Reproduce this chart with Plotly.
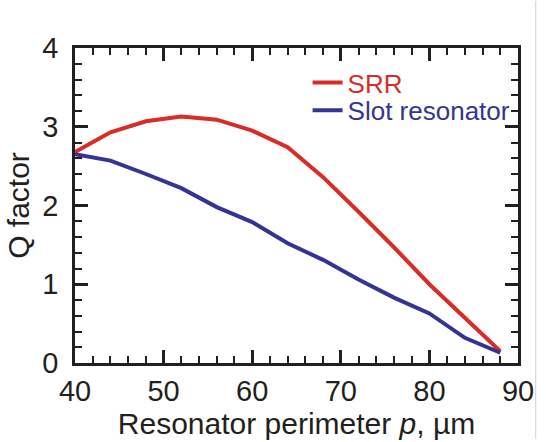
import plotly.graph_objects as go

# Resonator perimeter p (µm)
perimeter = [40, 44, 48, 52, 56, 60, 64, 68, 72, 76, 80, 84, 88]
# Q factor for each resonator type
q_srr = [2.68, 2.93, 3.07, 3.13, 3.09, 2.95, 2.74, 2.36, 1.92, 1.47, 1.00, 0.57, 0.15]
q_slot = [2.65, 2.57, 2.40, 2.22, 1.98, 1.79, 1.52, 1.31, 1.06, 0.83, 0.63, 0.32, 0.13]

x_ticks = [40, 50, 60, 70, 80, 90]
y_ticks = [0, 1, 2, 3, 4]

RED = "rgb(218,44,38)"
BLUE = "rgb(52,52,150)"
INK = "#231f20"
FONT = "Liberation Sans, Arial, sans-serif"

fig = go.Figure()
fig.add_trace(go.Scatter(x=perimeter, y=q_srr, mode="lines", name="SRR",
                         line=dict(color=RED, width=4), legend="legend"))
fig.add_trace(go.Scatter(x=perimeter, y=q_slot, mode="lines", name="Slot resonator",
                         line=dict(color=BLUE, width=4), legend="legend2"))

axis_common = dict(
    showline=True, linecolor=INK, linewidth=2.5, mirror="allticks",
    ticks="inside", ticklen=13, tickwidth=2.5, tickcolor=INK,
    showgrid=False, zeroline=False,
    tickfont=dict(family=FONT, size=29, color=INK),
)

fig.update_xaxes(
    range=[40, 90], tickvals=x_ticks, ticktext=[str(v) for v in x_ticks],
    minor=dict(dtick=2, ticks="inside", ticklen=7, tickwidth=2, tickcolor=INK),
    title=dict(text="Resonator perimeter <i>p</i>, µm",
               font=dict(family=FONT, size=30, color=INK), standoff=2),
    **axis_common,
)
fig.update_yaxes(
    range=[0, 4], tickvals=y_ticks, ticktext=[str(v) for v in y_ticks],
    minor=dict(dtick=0.2, ticks="inside", ticklen=7, tickwidth=2, tickcolor=INK),
    title=dict(text="Q factor", font=dict(family=FONT, size=30, color=INK), standoff=4),
    ticklabelstandoff=8,
    **axis_common,
)

legend_style = dict(
    bgcolor="rgba(0,0,0,0)",
    xanchor="left", yanchor="middle", itemwidth=30, tracegroupgap=0,
)
fig.update_layout(
    width=546, height=442,
    margin=dict(l=75, r=20, t=48, b=76),
    paper_bgcolor="white", plot_bgcolor="white",
    legend=dict(x=0.525, y=0.89, font=dict(family=FONT, size=26, color=RED), **legend_style),
    legend2=dict(x=0.525, y=0.802, font=dict(family=FONT, size=26, color=BLUE), **legend_style),
    showlegend=True,
)
fig.for_each_trace(lambda t: t.update(showlegend=True))

# thin frame line along the right edge of the page
fig.add_shape(type="line", xref="paper", yref="paper", x0=1.04, x1=1.04, y0=-0.24, y1=1.15,
              line=dict(color="#d0d0d0", width=1))

fig.write_html("out.html")
